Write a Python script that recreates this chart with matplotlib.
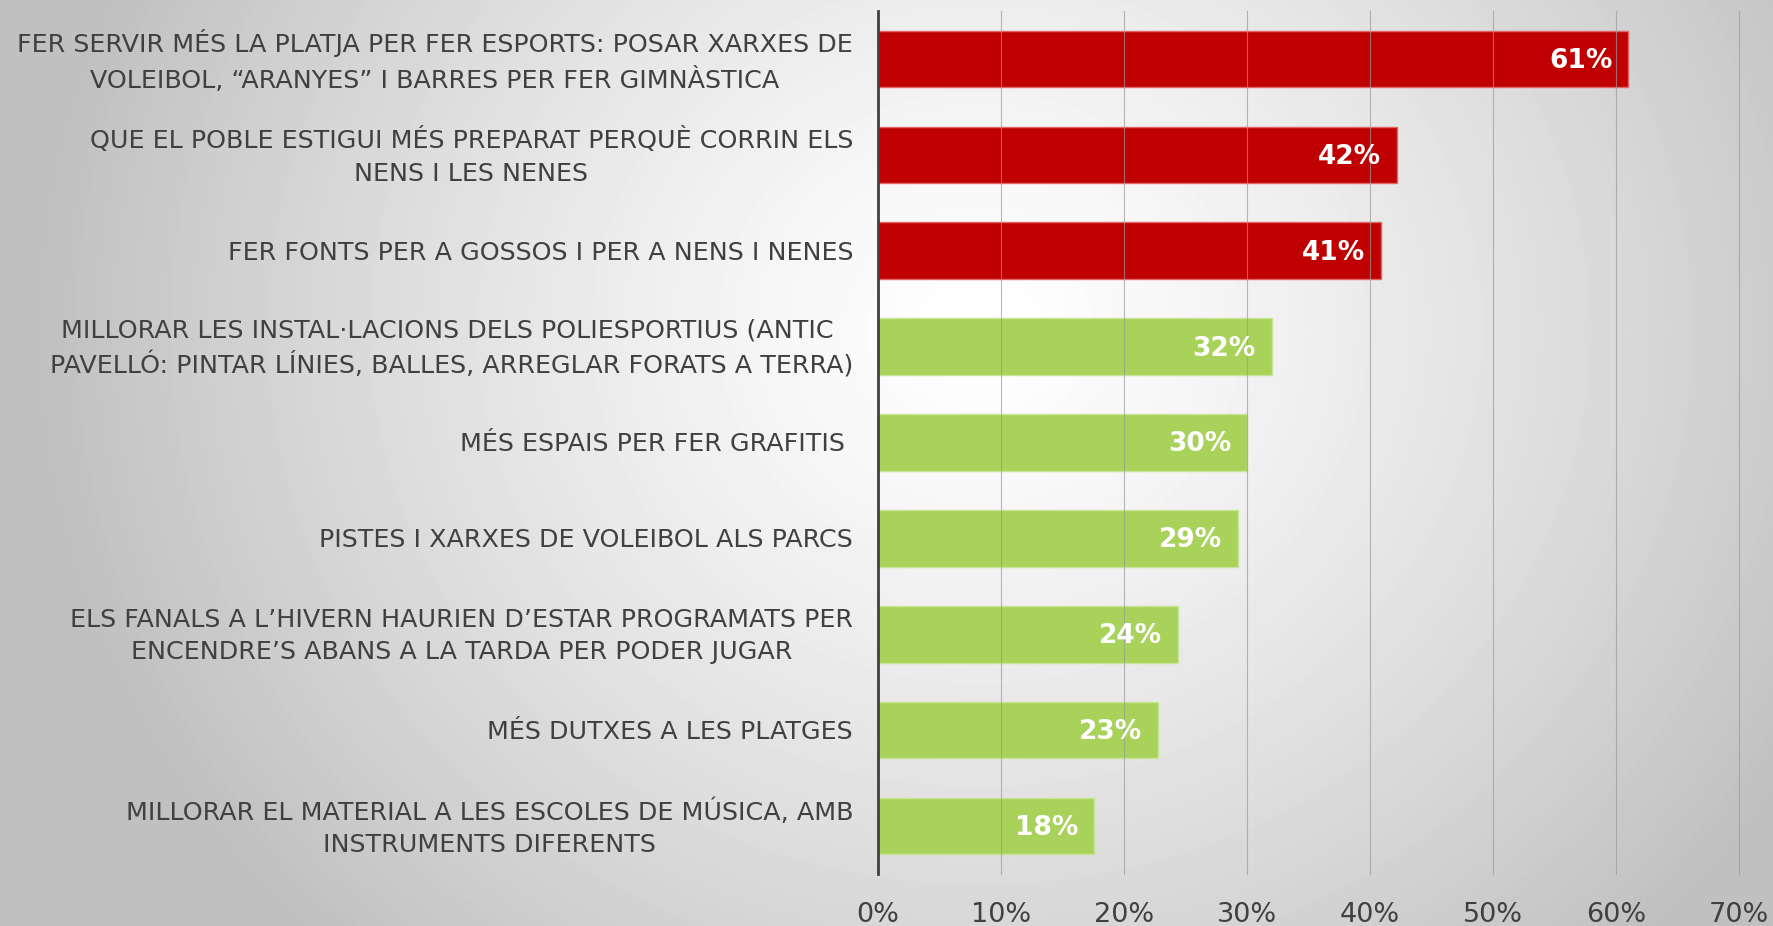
#! /usr/bin/python3

import matplotlib
import matplotlib.pyplot as plt
import numpy as np

matplotlib.use('agg')

categories = [
    'FER SERVIR MÉS LA PLATJA PER FER ESPORTS: POSAR XARXES DE\nVOLEIBOL, “ARANYES” I BARRES PER FER GIMNÀSTICA',
    'QUE EL POBLE ESTIGUI MÉS PREPARAT PERQUÈ CORRIN ELS\nNENS I LES NENES',
    'FER FONTS PER A GOSSOS I PER A NENS I NENES',
    'MILLORAR LES INSTAL·LACIONS DELS POLIESPORTIUS (ANTIC \nPAVELLÓ: PINTAR LÍNIES, BALLES, ARREGLAR FORATS A TERRA)',
    'MÉS ESPAIS PER FER GRAFITIS ',
    'PISTES I XARXES DE VOLEIBOL ALS PARCS',
    'ELS FANALS A L’HIVERN HAURIEN D’ESTAR PROGRAMATS PER\nENCENDRE’S ABANS A LA TARDA PER PODER JUGAR',
    'MÉS DUTXES A LES PLATGES',
    'MILLORAR EL MATERIAL A LES ESCOLES DE MÚSICA, AMB\nINSTRUMENTS DIFERENTS',
]
values = [0.61, 0.422, 0.409, 0.32, 0.30, 0.293, 0.244, 0.228, 0.176]
highlighted = [True, True, True, False, False, False, False, False, False]
ticks = [0, 0.1, 0.2, 0.3, 0.4, 0.5, 0.6, 0.7]

RED = '#C00000'
RED_EDGE = '#E06666'
GREEN = '#A9D25A'
GREEN_EDGE = '#C8E496'
TEXT = '#404040'

plt.rcParams['font.family'] = ['DejaVu Sans']

fig = plt.figure(figsize=(17.73, 9.26), dpi=100)

# radial grey background, white near the middle
bg = fig.add_axes([0, 0, 1, 1])
w, h = 1773, 926
yy, xx = np.mgrid[0:h, 0:w]
r = np.sqrt((xx - 980.0) ** 2 + ((yy - 330.0) * 1.1) ** 2)
t = np.clip(r / 950.0, 0, 1) ** 1.3
grey = 1.0 - (1.0 - 0.75) * t
bg.imshow(grey, cmap='gray', vmin=0, vmax=1, aspect='auto', interpolation='bilinear')
bg.axis('off')

ax = fig.add_axes([878 / w, 1 - 874 / h, (1739 - 878) / w, (874 - 11) / h])
ax.patch.set_alpha(0)

pos = np.arange(len(categories))
colors = [RED if hl else GREEN for hl in highlighted]
edges = [RED_EDGE if hl else GREEN_EDGE for hl in highlighted]
ax.barh(pos, values, height=0.59, color=colors, edgecolor=edges, linewidth=1.0, zorder=2)

for p, v in zip(pos, values):
    ax.text(v - 0.013, p + 0.02, '%d%%' % round(v * 100), ha='right', va='center',
            color='white', fontsize=19, fontweight='bold', zorder=4)

ax.set_ylim(len(categories) - 0.5, -0.5)
ax.set_xlim(0, 0.7)
ax.set_xticks(ticks)
ax.set_xticklabels(['%d%%' % round(t * 100) for t in ticks])
ax.set_yticks(pos + 0.02)
ax.set_yticklabels(categories)
for lbl in ax.get_yticklabels():
    lbl.set_multialignment('center')
    lbl.set_linespacing(1.45)
    lbl.set_verticalalignment('center')

for x in ticks[1:]:
    ax.axvline(x, color='#9a9a9a', linewidth=0.8, alpha=0.7, zorder=3, clip_on=False)

for s in ['top', 'right', 'bottom']:
    ax.spines[s].set_visible(False)
ax.spines['left'].set_color(TEXT)
ax.spines['left'].set_linewidth(2.0)
ax.spines['left'].set_zorder(5)

ax.tick_params(axis='y', length=0, pad=18, labelsize=18.3, labelcolor=TEXT)
ax.tick_params(axis='x', length=0, pad=20, labelsize=19.5, labelcolor=TEXT)

fig.savefig('out.png', dpi=100)
